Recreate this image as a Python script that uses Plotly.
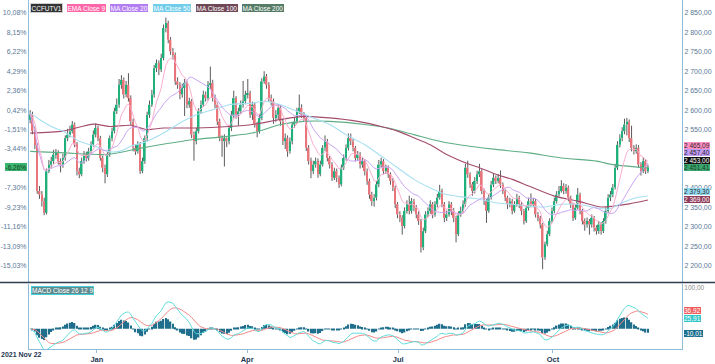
import plotly.graph_objects as go
import pandas as pd

# ---------------- data ----------------
close = [2589, 2546, 2510, 2392, 2383, 2366, 2336, 2443, 2460, 2469,
         2486, 2490, 2469, 2460, 2477, 2528, 2537, 2546, 2563, 2512,
         2443, 2435, 2469, 2486, 2477, 2494, 2512, 2537, 2554, 2528,
         2477, 2452, 2435, 2486, 2528, 2546, 2597, 2614, 2665, 2678,
         2640, 2665, 2631, 2571, 2503, 2494, 2512, 2443, 2469, 2528,
         2588, 2614, 2640, 2708, 2721, 2704, 2734, 2811, 2824, 2781,
         2751, 2742, 2674, 2665, 2640, 2657, 2670, 2614, 2623, 2537,
         2520, 2546, 2597, 2614, 2640, 2631, 2665, 2670, 2631, 2614,
         2571, 2528, 2520, 2528, 2520, 2554, 2588, 2631, 2588, 2597,
         2614, 2623, 2640, 2644, 2588, 2614, 2563, 2546, 2580, 2674,
         2687, 2665, 2631, 2623, 2580, 2588, 2606, 2571, 2520, 2528,
         2494, 2520, 2563, 2571, 2597, 2606, 2588, 2580, 2503, 2469,
         2443, 2460, 2469, 2435, 2460, 2503, 2520, 2477, 2460, 2426,
         2443, 2426, 2409, 2452, 2477, 2503, 2528, 2520, 2503, 2477,
         2486, 2460, 2469, 2443, 2418, 2383, 2366, 2375, 2409, 2460,
         2469, 2443, 2452, 2435, 2418, 2401, 2358, 2332, 2323, 2302,
         2341, 2358, 2341, 2366, 2349, 2332, 2315, 2247, 2289, 2332,
         2341, 2358, 2332, 2358, 2375, 2392, 2358, 2323, 2332, 2358,
         2341, 2323, 2281, 2332, 2341, 2358, 2452, 2435, 2409, 2392,
         2418, 2435, 2443, 2392, 2366, 2341, 2375, 2409, 2426, 2418,
         2426, 2409, 2392, 2375, 2358, 2366, 2341, 2358, 2375, 2358,
         2341, 2315, 2349, 2366, 2358, 2366, 2332, 2323, 2306, 2221,
         2255, 2281, 2315, 2341, 2366, 2383, 2392, 2405, 2392, 2401,
         2375, 2358, 2323, 2349, 2383, 2341, 2315, 2306, 2315, 2306,
         2323, 2298, 2289, 2306, 2289, 2315, 2341, 2375, 2383, 2401,
         2452, 2511, 2528, 2546, 2563, 2571, 2528, 2503, 2494, 2503,
         2460, 2443, 2469, 2443, 2453]

open_ = [2575, 2589, 2546, 2510, 2392, 2383, 2366, 2336, 2443, 2460,
         2469, 2486, 2490, 2469, 2460, 2477, 2528, 2537, 2546, 2563,
         2512, 2443, 2435, 2469, 2486, 2477, 2494, 2512, 2537, 2554,
         2528, 2477, 2452, 2435, 2486, 2528, 2546, 2597, 2614, 2665,
         2678, 2640, 2665, 2631, 2571, 2503, 2494, 2512, 2443, 2469,
         2528, 2588, 2614, 2640, 2708, 2721, 2704, 2734, 2811, 2824,
         2781, 2751, 2742, 2674, 2665, 2640, 2657, 2670, 2614, 2623,
         2537, 2520, 2546, 2597, 2614, 2640, 2631, 2665, 2670, 2631,
         2614, 2571, 2528, 2520, 2528, 2520, 2554, 2588, 2631, 2588,
         2597, 2614, 2623, 2640, 2644, 2588, 2614, 2563, 2546, 2580,
         2674, 2687, 2665, 2631, 2623, 2580, 2588, 2606, 2571, 2520,
         2528, 2494, 2520, 2563, 2571, 2597, 2606, 2588, 2580, 2503,
         2469, 2443, 2460, 2469, 2435, 2460, 2503, 2520, 2477, 2460,
         2426, 2443, 2426, 2409, 2452, 2477, 2503, 2528, 2520, 2503,
         2477, 2486, 2460, 2469, 2443, 2418, 2383, 2366, 2375, 2409,
         2460, 2469, 2443, 2452, 2435, 2418, 2401, 2358, 2332, 2323,
         2302, 2341, 2358, 2341, 2366, 2349, 2332, 2315, 2247, 2289,
         2332, 2341, 2358, 2332, 2358, 2375, 2392, 2358, 2323, 2332,
         2358, 2341, 2323, 2281, 2332, 2341, 2358, 2452, 2435, 2409,
         2392, 2418, 2435, 2443, 2392, 2366, 2341, 2375, 2409, 2426,
         2418, 2426, 2409, 2392, 2375, 2358, 2366, 2341, 2358, 2375,
         2358, 2341, 2315, 2349, 2366, 2358, 2366, 2332, 2323, 2306,
         2221, 2255, 2281, 2315, 2341, 2366, 2383, 2392, 2405, 2392,
         2401, 2375, 2358, 2323, 2349, 2383, 2341, 2315, 2306, 2315,
         2306, 2323, 2298, 2289, 2306, 2289, 2315, 2341, 2375, 2383,
         2401, 2452, 2511, 2528, 2546, 2563, 2571, 2528, 2503, 2494,
         2503, 2460, 2443, 2469, 2443]

high = [2600, 2596, 2558, 2515, 2405, 2392, 2375, 2450, 2472, 2480,
        2498, 2500, 2497, 2476, 2488, 2535, 2552, 2560, 2572, 2568,
        2518, 2452, 2478, 2495, 2493, 2503, 2520, 2548, 2566, 2560,
        2534, 2483, 2460, 2492, 2535, 2555, 2606, 2630, 2680, 2690,
        2684, 2675, 2695, 2638, 2578, 2512, 2520, 2518, 2478, 2535,
        2596, 2625, 2652, 2716, 2730, 2728, 2745, 2820, 2838, 2830,
        2788, 2760, 2748, 2684, 2672, 2668, 2680, 2676, 2632, 2628,
        2545, 2555, 2605, 2625, 2650, 2648, 2675, 2712, 2678, 2640,
        2620, 2578, 2535, 2538, 2530, 2562, 2598, 2650, 2636, 2606,
        2625, 2675, 2650, 2680, 2650, 2622, 2620, 2570, 2590, 2682,
        2700, 2693, 2672, 2640, 2630, 2600, 2615, 2612, 2578, 2540,
        2535, 2530, 2570, 2580, 2606, 2640, 2615, 2595, 2585, 2510,
        2478, 2470, 2478, 2476, 2470, 2510, 2535, 2526, 2482, 2466,
        2452, 2450, 2432, 2460, 2486, 2512, 2540, 2540, 2526, 2508,
        2495, 2492, 2478, 2474, 2450, 2424, 2390, 2384, 2418, 2472,
        2478, 2474, 2460, 2458, 2440, 2425, 2406, 2364, 2340, 2330,
        2350, 2368, 2380, 2374, 2372, 2356, 2340, 2320, 2298, 2340,
        2350, 2368, 2364, 2366, 2385, 2408, 2398, 2364, 2342, 2366,
        2364, 2348, 2328, 2340, 2352, 2368, 2462, 2470, 2440, 2415,
        2428, 2444, 2462, 2448, 2398, 2372, 2384, 2418, 2436, 2432,
        2436, 2445, 2414, 2398, 2380, 2375, 2372, 2366, 2385, 2380,
        2364, 2346, 2356, 2375, 2386, 2374, 2372, 2338, 2328, 2310,
        2262, 2290, 2322, 2350, 2375, 2392, 2405, 2420, 2412, 2410,
        2406, 2380, 2362, 2358, 2400, 2388, 2346, 2322, 2324, 2320,
        2332, 2328, 2304, 2315, 2312, 2322, 2350, 2384, 2392, 2410,
        2462, 2520, 2538, 2556, 2578, 2580, 2576, 2560, 2510, 2512,
        2510, 2466, 2478, 2474, 2460]

low = [2566, 2538, 2500, 2385, 2372, 2352, 2330, 2332, 2438, 2452,
       2462, 2475, 2460, 2440, 2452, 2470, 2520, 2530, 2540, 2505,
       2432, 2425, 2430, 2462, 2468, 2470, 2488, 2506, 2530, 2520,
       2470, 2440, 2412, 2428, 2480, 2520, 2540, 2590, 2606, 2655,
       2630, 2633, 2622, 2562, 2494, 2485, 2488, 2436, 2438, 2462,
       2520, 2580, 2608, 2632, 2698, 2690, 2698, 2728, 2800, 2772,
       2742, 2730, 2665, 2655, 2628, 2632, 2585, 2605, 2606, 2528,
       2470, 2512, 2540, 2590, 2608, 2622, 2625, 2655, 2622, 2605,
       2562, 2520, 2480, 2455, 2505, 2512, 2546, 2580, 2578, 2560,
       2590, 2606, 2615, 2630, 2580, 2575, 2555, 2530, 2540, 2574,
       2668, 2655, 2622, 2612, 2565, 2570, 2575, 2560, 2510, 2500,
       2480, 2488, 2512, 2555, 2565, 2590, 2580, 2570, 2495, 2460,
       2425, 2436, 2452, 2426, 2430, 2455, 2495, 2468, 2450, 2418,
       2420, 2415, 2400, 2404, 2446, 2470, 2496, 2510, 2494, 2468,
       2470, 2450, 2452, 2432, 2408, 2372, 2354, 2352, 2368, 2402,
       2452, 2435, 2436, 2426, 2408, 2392, 2348, 2322, 2312, 2280,
       2296, 2334, 2332, 2334, 2340, 2322, 2305, 2234, 2240, 2284,
       2325, 2334, 2322, 2326, 2350, 2370, 2350, 2312, 2315, 2326,
       2330, 2312, 2260, 2276, 2326, 2335, 2352, 2426, 2400, 2380,
       2386, 2410, 2428, 2384, 2356, 2310, 2336, 2370, 2402, 2410,
       2412, 2400, 2384, 2366, 2346, 2350, 2332, 2336, 2352, 2348,
       2330, 2306, 2310, 2342, 2350, 2350, 2324, 2314, 2296, 2191,
       2215, 2250, 2276, 2310, 2335, 2360, 2378, 2388, 2384, 2385,
       2366, 2348, 2315, 2318, 2344, 2332, 2306, 2290, 2298, 2280,
       2298, 2288, 2280, 2282, 2280, 2284, 2308, 2336, 2366, 2376,
       2396, 2446, 2504, 2520, 2538, 2535, 2518, 2494, 2486, 2488,
       2452, 2432, 2438, 2436, 2438]

# long moving averages (they need history before the window)
ma50_idx = [0, 4, 9, 14, 21, 28, 33, 38, 43, 50, 57, 64, 71, 78, 85, 95, 100, 107, 114, 121,
            128, 135, 143, 150, 157, 164, 171, 178, 187, 192, 199, 206, 213, 220, 227, 234,
            242, 247, 253, 259, 264]
ma50_val = [2593, 2576, 2558, 2546, 2520, 2507, 2494, 2494, 2507, 2520, 2541, 2567, 2588, 2601,
            2614, 2618, 2623, 2614, 2597, 2580, 2563, 2537, 2511, 2482, 2452, 2422, 2400, 2383,
            2375, 2371, 2362, 2358, 2353, 2351, 2358, 2358, 2349, 2345, 2362, 2375, 2379.3]
ma100_idx = [0, 14, 27, 34, 43, 50, 57, 71, 85, 95, 107, 117, 128, 140, 150, 157, 164, 171, 178,
             188, 192, 199, 206, 213, 224, 234, 244, 249, 256, 264]
ma100_val = [2541, 2546, 2564, 2558, 2561, 2550, 2554, 2554, 2558, 2563, 2576, 2584, 2580, 2571,
             2558, 2546, 2529, 2511, 2486, 2460, 2452, 2435, 2422, 2405, 2379, 2366, 2351, 2353,
             2359, 2369]
ma200_idx = [0, 15, 33, 48, 71, 80, 95, 107, 117, 128, 143, 153, 164, 178, 188, 199, 213, 227,
             242, 249, 264]
ma200_val = [2494, 2490, 2486, 2503, 2525, 2530, 2541, 2563, 2571, 2571, 2563, 2554, 2537, 2516,
             2507, 2499, 2490, 2477, 2469, 2460, 2451.41]

# tick labels as shown (hidden ones behind the value labels are left out)
price_ticks = [2850, 2800, 2750, 2700, 2650, 2600, 2550, 2400, 2350, 2300, 2250, 2200]
price_ticklabels = ["2 850,00", "2 800,00", "2 750,00", "2 700,00", "2 650,00", "2 600,00",
                    "2 550,00", "2 400,00", "2 350,00", "2 300,00", "2 250,00", "2 200,00"]
pct_ticks = [2850, 2800, 2750, 2700, 2650, 2600, 2550, 2500, 2400, 2350, 2300, 2250, 2200]
pct_ticklabels = ["10,08%", "8,15%", "6,22%", "4,29%", "2,36%", "0,42%", "-1,51%", "-3,44%",
                  "-7,30%", "-9,23%", "-11,16%", "-13,09%", "-15,03%"]
month_labels = ["Jan", "Apr", "Jul", "Oct"]
month_pos = [28.5, 92.7, 157.3, 223.4]
first_date_label = "2021 Nov 22"

legend_items = ["CCFUTV1", "EMA Close 9", "MA Close 20", "MA Close 50", "MA Close 100", "MA Close 200"]
price_value_labels = ["2 465,09", "2 457,40", "2 453,00", "2 451,41", "2 379,30", "2 369,00"]
macd_value_labels = ["36,92", "25,91", "-10,01"]
macd_ticklabel = "100,00"
pct_value_label = "-6,26%"

# ---------------- indicators defined by the legend ----------------
n = len(close)
idx = list(range(n))
s = pd.Series(close, dtype=float)
ema9 = s.ewm(span=9, adjust=False).mean()
ma20 = s.rolling(20, min_periods=1).mean()
macd = s.ewm(span=12, adjust=False).mean() - s.ewm(span=26, adjust=False).mean()
signal = macd.ewm(span=9, adjust=False).mean()
hist = macd - signal

UP, DOWN = "#1fb07c", "#e8757b"
FONT = "Liberation Sans"

fig = go.Figure()

# wicks (above and below the body only)
wx, wy = [], []
for i in idx:
    top, bot = max(open_[i], close[i]), min(open_[i], close[i])
    wx += [i, i, None, i, i, None]
    wy += [high[i], top, None, bot, low[i], None]
fig.add_trace(go.Scatter(x=wx, y=wy, mode="lines", line=dict(color="#5a5a5a", width=1),
                         hoverinfo="skip", showlegend=False))

body_base = [min(o, c) for o, c in zip(open_, close)]
body_h = [max(abs(c - o), 1.5) for o, c in zip(open_, close)]
body_col = [UP if c >= o else DOWN for o, c in zip(open_, close)]
fig.add_trace(go.Bar(x=idx, y=body_h, base=body_base, marker=dict(color=body_col, line=dict(width=0)),
                     width=0.72, hoverinfo="skip", showlegend=False))

line_specs = [
    (ma200_idx, ma200_val, "#5fae85"),
    (ma100_idx, ma100_val, "#a44d6e"),
    (ma50_idx, ma50_val, "#a6dff2"),
]
for xs, ys, col in line_specs:
    fig.add_trace(go.Scatter(x=xs, y=ys, mode="lines", line=dict(color=col, width=1.1, shape="spline", smoothing=0.7),
                             hoverinfo="skip", showlegend=False))
fig.add_trace(go.Scatter(x=idx, y=ma20, mode="lines", line=dict(color="#caa6f3", width=1),
                         hoverinfo="skip", showlegend=False))
fig.add_trace(go.Scatter(x=idx, y=ema9, mode="lines", line=dict(color="#f9aed0", width=1),
                         hoverinfo="skip", showlegend=False))

# invisible trace to carry the percent axis
fig.add_trace(go.Scatter(x=[0], y=[2500], yaxis="y3", mode="markers", marker=dict(opacity=0),
                         hoverinfo="skip", showlegend=False))

# MACD pane
fig.add_trace(go.Bar(x=idx, y=hist, xaxis="x2", yaxis="y2", marker=dict(color="#1f6e8c", line=dict(width=0)),
                     width=0.6, hoverinfo="skip", showlegend=False))
fig.add_trace(go.Scatter(x=idx, y=signal, xaxis="x2", yaxis="y2", mode="lines",
                         line=dict(color="#f38a8a", width=1), hoverinfo="skip", showlegend=False))
fig.add_trace(go.Scatter(x=idx, y=macd, xaxis="x2", yaxis="y2", mode="lines",
                         line=dict(color="#62dcdc", width=1), hoverinfo="skip", showlegend=False))

AX = "#8fbcd9"
TICKF = dict(family=FONT, size=7, color="#5a7896")
xr = [-0.5, -0.5 + 653 / 2.34]
prange = [2156.7, 2883.1]

fig.update_layout(
    width=715, height=364,
    margin=dict(l=29, r=33, t=0, b=12),
    paper_bgcolor="white", plot_bgcolor="white",
    barmode="overlay", showlegend=False,
    font=dict(family=FONT),
    xaxis=dict(domain=[0, 1], range=xr, anchor="y", showticklabels=False, showgrid=False,
               zeroline=False, showline=False, ticks=""),
    yaxis=dict(domain=[0.1903, 1], range=prange, side="right", tickvals=price_ticks,
               ticktext=price_ticklabels, showgrid=False, zeroline=False, showline=True,
               linecolor=AX, linewidth=1, ticks="", tickfont=TICKF),
    yaxis3=dict(overlaying="y", range=prange, side="left", tickvals=pct_ticks,
                ticktext=pct_ticklabels, showgrid=False, zeroline=False, showline=True,
                linecolor=AX, linewidth=1, ticks="", tickfont=TICKF),
    xaxis2=dict(domain=[0, 1], range=xr, anchor="y2", matches="x", tickvals=month_pos,
                ticktext=["<b>%s</b>" % m for m in month_labels], ticks="outside", ticklen=3,
                tickcolor=AX, showgrid=False, zeroline=False, showline=True, linecolor=AX,
                tickfont=dict(family=FONT, size=7.5, color="#1e3552")),
    yaxis2=dict(domain=[0, 0.1875], range=[-49.4, 109.6], side="right", tickvals=[100],
                ticktext=[macd_ticklabel], showgrid=False, zeroline=False, showline=True,
                mirror=True, linecolor=AX, ticks="", tickfont=dict(family=FONT, size=6.5, color="#8a8a8a")),
)

def px2paper(xpx, ypx):
    return (xpx - 29) / 653, (352 - ypx) / 352

ann = []

def label(text, xpx, ypx, bg, fg, anchor="left", size=6.5, border=None, bold=False, pad=0):
    xp, yp = px2paper(xpx, ypx)
    ann.append(dict(text=("<b>%s</b>" % text) if bold else text, x=xp, y=yp, xref="paper", yref="paper",
                    xanchor=anchor, yanchor="middle", showarrow=False, bgcolor=bg,
                    bordercolor=border or bg, borderwidth=1 if border else 0, borderpad=pad,
                    font=dict(family=FONT, size=size, color=fg)))

# legend chips
legend_x = [30, 67, 110, 153, 196, 242]
legend_bg = ["#333333", "#ff66a8", "#b37ef2", "#72cdea", "#6f4858", "#567b67"]
for t, xx, bg in zip(legend_items, legend_x, legend_bg):
    label(t, xx, 8, bg, "white", border="#cfcfcf" if t == "CCFUTV1" else None, pad=0.5)

# right value labels (price)
pv_y = [146.5, 154, 161.5, 168.5, 193.5, 201]
pv_bg = ["#ff8fc4", "#c39cf5", "#111111", "#3aa86e", "#92d9f0", "#8e3b5a"]
pv_fg = ["#2a2a2a", "#2a2a2a", "white", "#1a3a26", "#2a2a2a", "white"]
for t, yy, bg, fg in zip(price_value_labels, pv_y, pv_bg, pv_fg):
    label(t, 684, yy, bg, fg)

# left percent label
label(pct_value_label, 27, 168, "#3ab56e", "#173b25", anchor="right", pad=0.5)

# MACD chip and value labels
label("MACD Close 26 12 9", 31, 293, "#5f8a90", "white", border="#3fd0d6")
mv_y = [313.5, 321, 336]
mv_bg = ["#f05c5c", "#33c6c9", "#1d6f8e"]
for t, yy, bg in zip(macd_value_labels, mv_y, mv_bg):
    label(t, 684, yy, bg, "white")

# first date label
label(first_date_label, 1, 358, "rgba(0,0,0,0)", "#1e3552", size=7, bold=True)

fig.update_layout(annotations=ann)

# pane separator
fig.add_shape(type="line", xref="paper", yref="paper", x0=-29 / 653, x1=686 / 653,
              y0=(352 - 285) / 352, y1=(352 - 285) / 352, line=dict(color="#2f3f4f", width=1.5))

fig.write_html("out.html", config={"displayModeBar": False},
               post_script="document.body.style.margin='0px';document.body.style.overflow='hidden';")
